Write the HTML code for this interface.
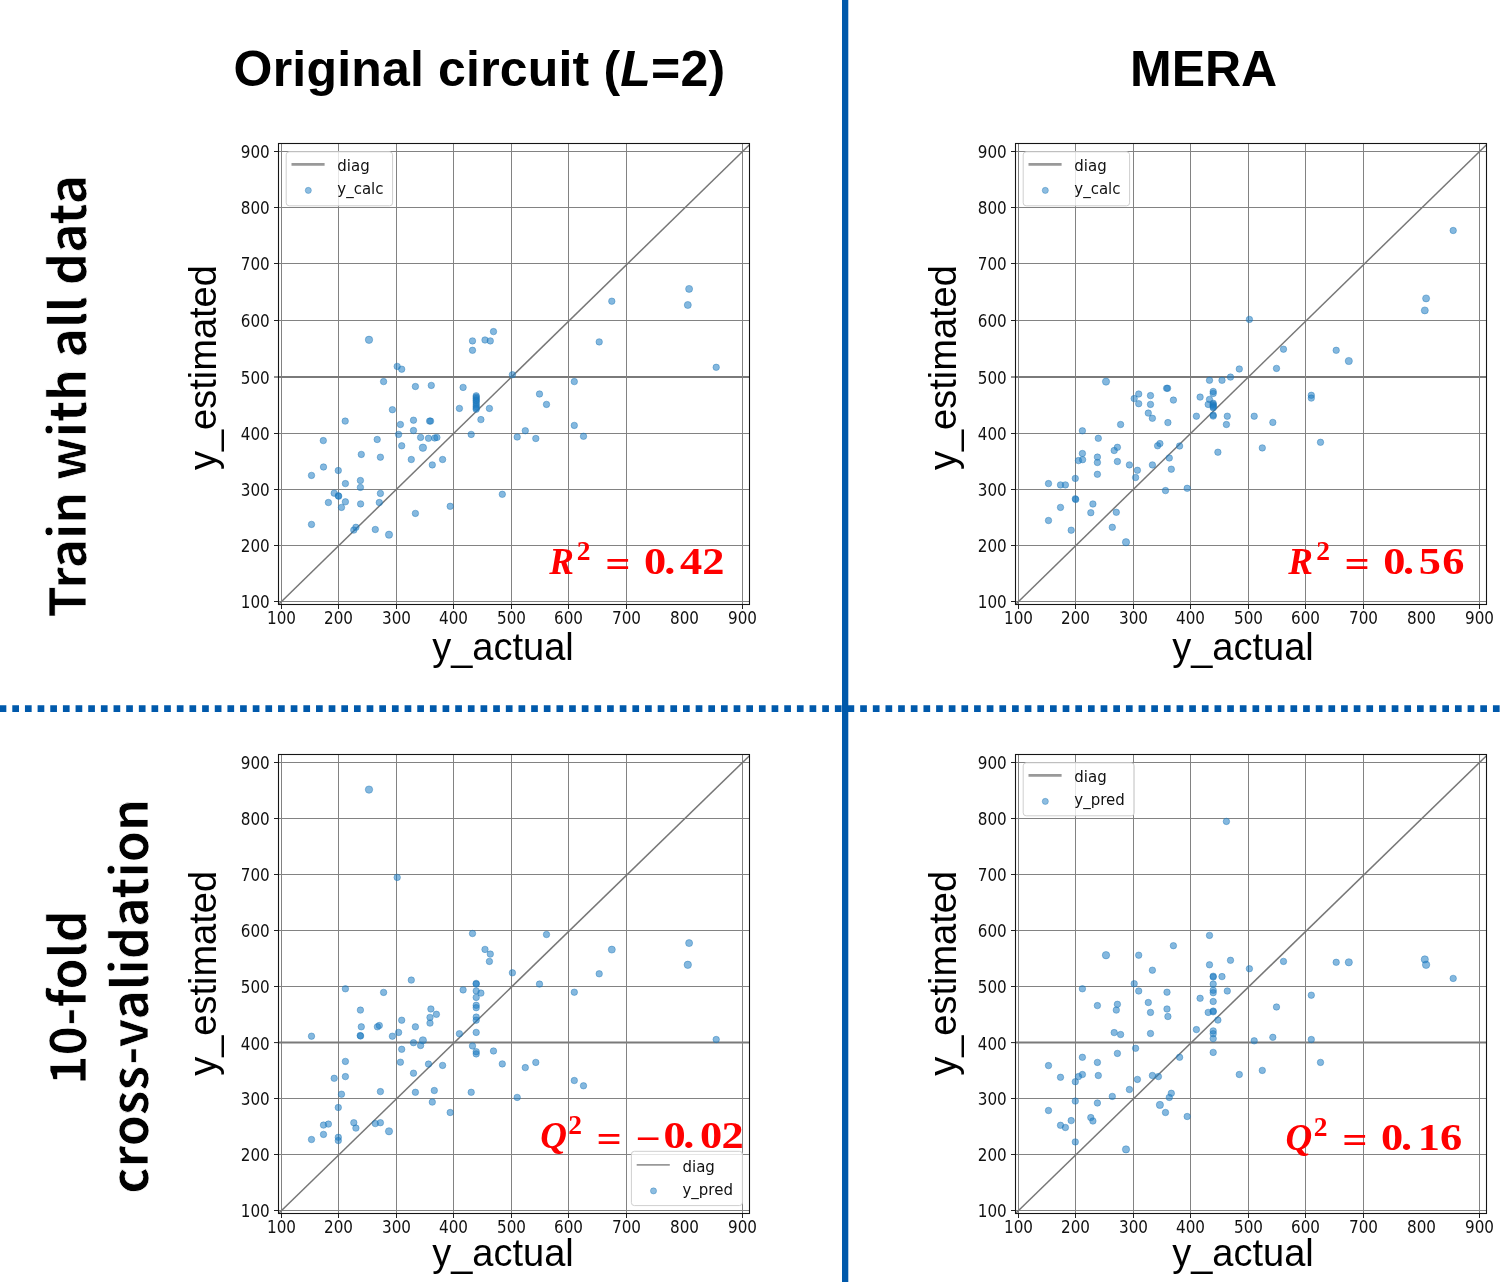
<!DOCTYPE html>
<html lang="en"><head><meta charset="utf-8"><title>Original circuit vs MERA</title>
<style>
html,body{margin:0;padding:0;background:#fff}
svg{display:block}
.tk{font-family:"DejaVu Sans","Liberation Sans",sans-serif;font-size:15.2px;fill:#111}
.lg{font-family:"DejaVu Sans","Liberation Sans",sans-serif;font-size:15px;fill:#111}
.ax{font-family:"Liberation Sans",Arial,sans-serif;font-size:38px;fill:#000}
.ti{font-family:"Liberation Sans",Arial,sans-serif;font-size:50px;font-weight:bold;fill:#000}
.sd{font-family:"Noto Sans CJK JP","Liberation Sans",sans-serif;font-weight:bold;font-size:50px;fill:#000;stroke:#fff;stroke-width:.7px}
.eq{font-family:"Liberation Serif","DejaVu Serif",serif;font-weight:bold;font-size:37px;fill:#ff0000;text-anchor:middle}
.eq .it{font-style:italic}
.pt circle{fill:#1c7cc4;fill-opacity:.54;stroke:#1f77b4;stroke-opacity:.6;stroke-width:.7}
</style></head><body>
<svg width="1502" height="1282" viewBox="0 0 1502 1282">
<rect width="1502" height="1282" fill="#fff"/>
<g>
<line x1="281.5" y1="143.5" x2="281.5" y2="604.5" stroke="#828282" stroke-width="1"/>
<line x1="281.5" y1="604.5" x2="281.5" y2="609.0" stroke="#222" stroke-width="1"/>
<line x1="278.5" y1="601.5" x2="749.5" y2="601.5" stroke="#828282" stroke-width="1"/>
<line x1="274.0" y1="601.5" x2="278.5" y2="601.5" stroke="#222" stroke-width="1"/>
<line x1="338.5" y1="143.5" x2="338.5" y2="604.5" stroke="#828282" stroke-width="1"/>
<line x1="338.5" y1="604.5" x2="338.5" y2="609.0" stroke="#222" stroke-width="1"/>
<line x1="278.5" y1="545.5" x2="749.5" y2="545.5" stroke="#828282" stroke-width="1"/>
<line x1="274.0" y1="545.5" x2="278.5" y2="545.5" stroke="#222" stroke-width="1"/>
<line x1="396.5" y1="143.5" x2="396.5" y2="604.5" stroke="#828282" stroke-width="1"/>
<line x1="396.5" y1="604.5" x2="396.5" y2="609.0" stroke="#222" stroke-width="1"/>
<line x1="278.5" y1="489.5" x2="749.5" y2="489.5" stroke="#828282" stroke-width="1"/>
<line x1="274.0" y1="489.5" x2="278.5" y2="489.5" stroke="#222" stroke-width="1"/>
<line x1="453.5" y1="143.5" x2="453.5" y2="604.5" stroke="#828282" stroke-width="1"/>
<line x1="453.5" y1="604.5" x2="453.5" y2="609.0" stroke="#222" stroke-width="1"/>
<line x1="278.5" y1="433.5" x2="749.5" y2="433.5" stroke="#828282" stroke-width="1"/>
<line x1="274.0" y1="433.5" x2="278.5" y2="433.5" stroke="#222" stroke-width="1"/>
<line x1="511.5" y1="143.5" x2="511.5" y2="604.5" stroke="#828282" stroke-width="1"/>
<line x1="511.5" y1="604.5" x2="511.5" y2="609.0" stroke="#222" stroke-width="1"/>
<line x1="278.5" y1="377.0" x2="749.5" y2="377.0" stroke="#7a7a7a" stroke-width="2"/>
<line x1="274.0" y1="377.0" x2="278.5" y2="377.0" stroke="#222" stroke-width="1"/>
<line x1="568.5" y1="143.5" x2="568.5" y2="604.5" stroke="#828282" stroke-width="1"/>
<line x1="568.5" y1="604.5" x2="568.5" y2="609.0" stroke="#222" stroke-width="1"/>
<line x1="278.5" y1="320.5" x2="749.5" y2="320.5" stroke="#828282" stroke-width="1"/>
<line x1="274.0" y1="320.5" x2="278.5" y2="320.5" stroke="#222" stroke-width="1"/>
<line x1="626.5" y1="143.5" x2="626.5" y2="604.5" stroke="#828282" stroke-width="1"/>
<line x1="626.5" y1="604.5" x2="626.5" y2="609.0" stroke="#222" stroke-width="1"/>
<line x1="278.5" y1="263.5" x2="749.5" y2="263.5" stroke="#828282" stroke-width="1"/>
<line x1="274.0" y1="263.5" x2="278.5" y2="263.5" stroke="#222" stroke-width="1"/>
<line x1="278.5" y1="207.5" x2="749.5" y2="207.5" stroke="#828282" stroke-width="1"/>
<line x1="274.0" y1="207.5" x2="278.5" y2="207.5" stroke="#222" stroke-width="1"/>
<line x1="742.5" y1="143.5" x2="742.5" y2="604.5" stroke="#828282" stroke-width="1"/>
<line x1="742.5" y1="604.5" x2="742.5" y2="609.0" stroke="#222" stroke-width="1"/>
<line x1="278.5" y1="151.5" x2="749.5" y2="151.5" stroke="#828282" stroke-width="1"/>
<line x1="274.0" y1="151.5" x2="278.5" y2="151.5" stroke="#222" stroke-width="1"/>
<line x1="278.50" y1="604.43" x2="749.50" y2="144.67" stroke="#777" stroke-width="1.5"/>
<g class="pt">
<circle cx="383.6" cy="381.6" r="3.23"/>
<circle cx="415.4" cy="386.5" r="3.23"/>
<circle cx="431.3" cy="385.4" r="3.23"/>
<circle cx="463.1" cy="387.4" r="3.23"/>
<circle cx="476.2" cy="395.8" r="3.23"/>
<circle cx="476.2" cy="397.1" r="3.23"/>
<circle cx="476.2" cy="398.5" r="3.23"/>
<circle cx="476.2" cy="400.0" r="3.23"/>
<circle cx="476.2" cy="401.1" r="3.23"/>
<circle cx="476.2" cy="402.8" r="3.23"/>
<circle cx="476.2" cy="404.8" r="3.23"/>
<circle cx="476.2" cy="406.5" r="3.23"/>
<circle cx="476.2" cy="408.0" r="3.23"/>
<circle cx="476.2" cy="409.3" r="3.23"/>
<circle cx="459.4" cy="408.4" r="3.23"/>
<circle cx="489.4" cy="408.4" r="3.23"/>
<circle cx="392.4" cy="409.7" r="3.23"/>
<circle cx="480.9" cy="419.6" r="3.23"/>
<circle cx="345.2" cy="421.1" r="3.23"/>
<circle cx="413.5" cy="420.2" r="3.23"/>
<circle cx="429.6" cy="421.1" r="3.23"/>
<circle cx="430.6" cy="421.1" r="3.23"/>
<circle cx="400.4" cy="424.5" r="3.23"/>
<circle cx="413.5" cy="430.5" r="3.23"/>
<circle cx="398.6" cy="434.4" r="3.23"/>
<circle cx="471.2" cy="434.4" r="3.23"/>
<circle cx="323.3" cy="440.6" r="3.23"/>
<circle cx="377.2" cy="439.5" r="3.23"/>
<circle cx="420.6" cy="437.4" r="3.23"/>
<circle cx="428.5" cy="438.3" r="3.23"/>
<circle cx="434.7" cy="438.0" r="3.23"/>
<circle cx="436.9" cy="437.4" r="3.23"/>
<circle cx="401.7" cy="445.8" r="3.23"/>
<circle cx="422.9" cy="447.7" r="3.70"/>
<circle cx="361.3" cy="454.4" r="3.23"/>
<circle cx="380.4" cy="457.2" r="3.23"/>
<circle cx="411.3" cy="459.5" r="3.23"/>
<circle cx="442.6" cy="459.5" r="3.23"/>
<circle cx="432.3" cy="464.9" r="3.23"/>
<circle cx="323.5" cy="467.0" r="3.23"/>
<circle cx="338.3" cy="470.5" r="3.23"/>
<circle cx="311.5" cy="475.4" r="3.23"/>
<circle cx="360.4" cy="480.5" r="3.23"/>
<circle cx="345.4" cy="483.6" r="3.23"/>
<circle cx="360.4" cy="487.4" r="3.23"/>
<circle cx="334.2" cy="493.2" r="3.23"/>
<circle cx="338.3" cy="495.8" r="3.23"/>
<circle cx="338.7" cy="496.2" r="3.23"/>
<circle cx="380.4" cy="493.4" r="3.23"/>
<circle cx="502.3" cy="494.3" r="3.23"/>
<circle cx="328.4" cy="502.5" r="3.23"/>
<circle cx="345.4" cy="501.8" r="3.23"/>
<circle cx="360.6" cy="503.9" r="3.23"/>
<circle cx="379.3" cy="502.5" r="3.23"/>
<circle cx="341.5" cy="507.4" r="3.23"/>
<circle cx="450.2" cy="506.3" r="3.23"/>
<circle cx="415.4" cy="513.4" r="3.23"/>
<circle cx="311.5" cy="524.4" r="3.23"/>
<circle cx="355.9" cy="527.3" r="3.23"/>
<circle cx="353.8" cy="530.1" r="3.23"/>
<circle cx="375.3" cy="529.5" r="3.23"/>
<circle cx="389.0" cy="534.7" r="3.61"/>
<circle cx="512.4" cy="374.7" r="3.23"/>
<circle cx="369.0" cy="339.8" r="3.70"/>
<circle cx="472.5" cy="340.9" r="3.23"/>
<circle cx="472.5" cy="350.3" r="3.23"/>
<circle cx="485.0" cy="340.0" r="3.23"/>
<circle cx="490.3" cy="340.9" r="3.23"/>
<circle cx="493.5" cy="331.6" r="3.23"/>
<circle cx="397.2" cy="366.4" r="3.23"/>
<circle cx="401.7" cy="369.2" r="3.23"/>
<circle cx="611.8" cy="301.2" r="3.23"/>
<circle cx="689.1" cy="288.9" r="3.52"/>
<circle cx="687.8" cy="305.0" r="3.52"/>
<circle cx="599.2" cy="341.9" r="3.23"/>
<circle cx="716.2" cy="367.3" r="3.23"/>
<circle cx="574.3" cy="381.6" r="3.23"/>
<circle cx="539.5" cy="394.0" r="3.23"/>
<circle cx="546.5" cy="404.4" r="3.23"/>
<circle cx="574.3" cy="425.4" r="3.23"/>
<circle cx="525.3" cy="430.7" r="3.23"/>
<circle cx="517.2" cy="437.0" r="3.23"/>
<circle cx="535.8" cy="438.5" r="3.23"/>
<circle cx="583.5" cy="436.3" r="3.23"/>
</g>
<rect x="278.5" y="143.5" width="471.00" height="461.00" fill="none" stroke="#151515" stroke-width="1.1"/>
<text class="tk" transform="translate(281.50,624.30) scale(1,1.175)" text-anchor="middle">100</text>
<text class="tk" transform="translate(269.80,608.40) scale(1,1.175)" text-anchor="end">100</text>
<text class="tk" transform="translate(338.50,624.30) scale(1,1.175)" text-anchor="middle">200</text>
<text class="tk" transform="translate(269.80,552.40) scale(1,1.175)" text-anchor="end">200</text>
<text class="tk" transform="translate(396.50,624.30) scale(1,1.175)" text-anchor="middle">300</text>
<text class="tk" transform="translate(269.80,496.40) scale(1,1.175)" text-anchor="end">300</text>
<text class="tk" transform="translate(453.50,624.30) scale(1,1.175)" text-anchor="middle">400</text>
<text class="tk" transform="translate(269.80,440.40) scale(1,1.175)" text-anchor="end">400</text>
<text class="tk" transform="translate(511.50,624.30) scale(1,1.175)" text-anchor="middle">500</text>
<text class="tk" transform="translate(269.80,383.90) scale(1,1.175)" text-anchor="end">500</text>
<text class="tk" transform="translate(568.50,624.30) scale(1,1.175)" text-anchor="middle">600</text>
<text class="tk" transform="translate(269.80,327.40) scale(1,1.175)" text-anchor="end">600</text>
<text class="tk" transform="translate(626.50,624.30) scale(1,1.175)" text-anchor="middle">700</text>
<text class="tk" transform="translate(269.80,270.40) scale(1,1.175)" text-anchor="end">700</text>
<text class="tk" transform="translate(684.50,624.30) scale(1,1.175)" text-anchor="middle">800</text>
<text class="tk" transform="translate(269.80,214.40) scale(1,1.175)" text-anchor="end">800</text>
<text class="tk" transform="translate(742.50,624.30) scale(1,1.175)" text-anchor="middle">900</text>
<text class="tk" transform="translate(269.80,158.40) scale(1,1.175)" text-anchor="end">900</text>
<rect x="286.2" y="151.8" width="106.4" height="54" rx="3" ry="3" fill="#fff" fill-opacity=".8" stroke="#cfcfcf" stroke-width="1"/>
<line x1="291.5" y1="164.4" x2="324.6" y2="164.4" stroke="#999" stroke-width="2.6"/>
<circle cx="308.3" cy="190.4" r="3.05" fill="#1c7cc4" fill-opacity=".5" stroke="#1f77b4" stroke-opacity=".55" stroke-width=".7"/>
<text class="lg" transform="translate(337.3,171.2) scale(1,1.07)">diag</text>
<text class="lg" transform="translate(337.3,194.2) scale(1,1.07)">y_calc</text>
<text class="eq" y="573.9"><tspan class="it" x="561.5">R</tspan><tspan x="583.7" dy="-14.2" font-size="27.5">2</tspan></text>
<text class="eq" transform="translate(0,573.9) scale(1.2,1)" x="514.92 530.83 546.00 558.25 575.92 594.50" dy="3.4 0.0 -3.4 0.0 0.0 0.0" xml:space="preserve">= 0.42</text>
</g>
<g>
<line x1="1018.5" y1="143.5" x2="1018.5" y2="604.5" stroke="#828282" stroke-width="1"/>
<line x1="1018.5" y1="604.5" x2="1018.5" y2="609.0" stroke="#222" stroke-width="1"/>
<line x1="1015.5" y1="601.5" x2="1486.5" y2="601.5" stroke="#828282" stroke-width="1"/>
<line x1="1011.0" y1="601.5" x2="1015.5" y2="601.5" stroke="#222" stroke-width="1"/>
<line x1="1075.5" y1="143.5" x2="1075.5" y2="604.5" stroke="#828282" stroke-width="1"/>
<line x1="1075.5" y1="604.5" x2="1075.5" y2="609.0" stroke="#222" stroke-width="1"/>
<line x1="1015.5" y1="545.5" x2="1486.5" y2="545.5" stroke="#828282" stroke-width="1"/>
<line x1="1011.0" y1="545.5" x2="1015.5" y2="545.5" stroke="#222" stroke-width="1"/>
<line x1="1133.5" y1="143.5" x2="1133.5" y2="604.5" stroke="#828282" stroke-width="1"/>
<line x1="1133.5" y1="604.5" x2="1133.5" y2="609.0" stroke="#222" stroke-width="1"/>
<line x1="1015.5" y1="489.5" x2="1486.5" y2="489.5" stroke="#828282" stroke-width="1"/>
<line x1="1011.0" y1="489.5" x2="1015.5" y2="489.5" stroke="#222" stroke-width="1"/>
<line x1="1190.5" y1="143.5" x2="1190.5" y2="604.5" stroke="#828282" stroke-width="1"/>
<line x1="1190.5" y1="604.5" x2="1190.5" y2="609.0" stroke="#222" stroke-width="1"/>
<line x1="1015.5" y1="433.5" x2="1486.5" y2="433.5" stroke="#828282" stroke-width="1"/>
<line x1="1011.0" y1="433.5" x2="1015.5" y2="433.5" stroke="#222" stroke-width="1"/>
<line x1="1248.5" y1="143.5" x2="1248.5" y2="604.5" stroke="#828282" stroke-width="1"/>
<line x1="1248.5" y1="604.5" x2="1248.5" y2="609.0" stroke="#222" stroke-width="1"/>
<line x1="1015.5" y1="377.0" x2="1486.5" y2="377.0" stroke="#7a7a7a" stroke-width="2"/>
<line x1="1011.0" y1="377.0" x2="1015.5" y2="377.0" stroke="#222" stroke-width="1"/>
<line x1="1305.5" y1="143.5" x2="1305.5" y2="604.5" stroke="#828282" stroke-width="1"/>
<line x1="1305.5" y1="604.5" x2="1305.5" y2="609.0" stroke="#222" stroke-width="1"/>
<line x1="1015.5" y1="320.5" x2="1486.5" y2="320.5" stroke="#828282" stroke-width="1"/>
<line x1="1011.0" y1="320.5" x2="1015.5" y2="320.5" stroke="#222" stroke-width="1"/>
<line x1="1363.5" y1="143.5" x2="1363.5" y2="604.5" stroke="#828282" stroke-width="1"/>
<line x1="1363.5" y1="604.5" x2="1363.5" y2="609.0" stroke="#222" stroke-width="1"/>
<line x1="1015.5" y1="263.5" x2="1486.5" y2="263.5" stroke="#828282" stroke-width="1"/>
<line x1="1011.0" y1="263.5" x2="1015.5" y2="263.5" stroke="#222" stroke-width="1"/>
<line x1="1015.5" y1="207.5" x2="1486.5" y2="207.5" stroke="#828282" stroke-width="1"/>
<line x1="1011.0" y1="207.5" x2="1015.5" y2="207.5" stroke="#222" stroke-width="1"/>
<line x1="1479.5" y1="143.5" x2="1479.5" y2="604.5" stroke="#828282" stroke-width="1"/>
<line x1="1479.5" y1="604.5" x2="1479.5" y2="609.0" stroke="#222" stroke-width="1"/>
<line x1="1015.5" y1="151.5" x2="1486.5" y2="151.5" stroke="#828282" stroke-width="1"/>
<line x1="1011.0" y1="151.5" x2="1015.5" y2="151.5" stroke="#222" stroke-width="1"/>
<line x1="1015.50" y1="604.43" x2="1486.50" y2="144.67" stroke="#777" stroke-width="1.5"/>
<g class="pt">
<circle cx="1249.4" cy="319.4" r="3.23"/>
<circle cx="1239.3" cy="369.0" r="3.23"/>
<circle cx="1106.0" cy="381.6" r="3.61"/>
<circle cx="1209.5" cy="380.3" r="3.23"/>
<circle cx="1222.0" cy="380.3" r="3.23"/>
<circle cx="1230.5" cy="377.1" r="3.23"/>
<circle cx="1166.6" cy="388.3" r="3.23"/>
<circle cx="1167.6" cy="388.3" r="3.23"/>
<circle cx="1213.2" cy="391.5" r="3.23"/>
<circle cx="1213.2" cy="393.4" r="3.23"/>
<circle cx="1138.7" cy="394.0" r="3.23"/>
<circle cx="1150.5" cy="395.6" r="3.23"/>
<circle cx="1134.2" cy="398.6" r="3.23"/>
<circle cx="1173.4" cy="400.1" r="3.23"/>
<circle cx="1200.1" cy="397.1" r="3.23"/>
<circle cx="1209.5" cy="399.4" r="3.23"/>
<circle cx="1138.7" cy="403.7" r="3.23"/>
<circle cx="1150.5" cy="404.4" r="3.23"/>
<circle cx="1208.2" cy="404.4" r="3.23"/>
<circle cx="1213.2" cy="403.3" r="3.23"/>
<circle cx="1213.2" cy="404.4" r="3.23"/>
<circle cx="1213.2" cy="405.6" r="3.23"/>
<circle cx="1213.2" cy="406.7" r="3.23"/>
<circle cx="1213.2" cy="407.8" r="3.23"/>
<circle cx="1148.3" cy="413.1" r="3.23"/>
<circle cx="1152.4" cy="418.3" r="3.23"/>
<circle cx="1196.4" cy="416.2" r="3.23"/>
<circle cx="1213.2" cy="415.1" r="3.23"/>
<circle cx="1213.2" cy="416.1" r="3.23"/>
<circle cx="1227.3" cy="416.2" r="3.23"/>
<circle cx="1120.6" cy="424.5" r="3.23"/>
<circle cx="1167.9" cy="422.6" r="3.23"/>
<circle cx="1226.4" cy="424.5" r="3.23"/>
<circle cx="1082.4" cy="430.8" r="3.23"/>
<circle cx="1098.3" cy="438.3" r="3.23"/>
<circle cx="1117.4" cy="447.3" r="3.23"/>
<circle cx="1114.2" cy="450.5" r="3.23"/>
<circle cx="1159.9" cy="443.6" r="3.23"/>
<circle cx="1157.6" cy="445.8" r="3.23"/>
<circle cx="1179.6" cy="446.0" r="3.23"/>
<circle cx="1217.9" cy="452.2" r="3.23"/>
<circle cx="1082.4" cy="453.5" r="3.23"/>
<circle cx="1097.4" cy="457.1" r="3.23"/>
<circle cx="1078.5" cy="460.6" r="3.23"/>
<circle cx="1082.6" cy="459.7" r="3.23"/>
<circle cx="1097.4" cy="462.5" r="3.23"/>
<circle cx="1117.4" cy="461.5" r="3.23"/>
<circle cx="1169.3" cy="458.0" r="3.23"/>
<circle cx="1129.4" cy="464.9" r="3.23"/>
<circle cx="1152.4" cy="464.9" r="3.23"/>
<circle cx="1137.4" cy="470.3" r="3.23"/>
<circle cx="1171.3" cy="469.2" r="3.23"/>
<circle cx="1097.4" cy="474.3" r="3.23"/>
<circle cx="1135.6" cy="477.5" r="3.23"/>
<circle cx="1075.3" cy="478.4" r="3.23"/>
<circle cx="1048.5" cy="483.6" r="3.23"/>
<circle cx="1060.5" cy="484.9" r="3.23"/>
<circle cx="1065.4" cy="484.9" r="3.23"/>
<circle cx="1165.5" cy="490.6" r="3.23"/>
<circle cx="1187.2" cy="488.3" r="3.23"/>
<circle cx="1075.3" cy="498.8" r="3.23"/>
<circle cx="1075.7" cy="499.5" r="3.23"/>
<circle cx="1092.9" cy="504.0" r="3.23"/>
<circle cx="1060.5" cy="507.4" r="3.23"/>
<circle cx="1090.8" cy="512.7" r="3.23"/>
<circle cx="1116.3" cy="512.3" r="3.23"/>
<circle cx="1048.5" cy="520.5" r="3.23"/>
<circle cx="1071.2" cy="530.2" r="3.23"/>
<circle cx="1112.3" cy="527.3" r="3.23"/>
<circle cx="1126.0" cy="542.2" r="3.61"/>
<circle cx="1453.2" cy="230.5" r="3.23"/>
<circle cx="1426.1" cy="298.4" r="3.52"/>
<circle cx="1424.8" cy="310.4" r="3.52"/>
<circle cx="1283.5" cy="349.2" r="3.23"/>
<circle cx="1336.2" cy="350.3" r="3.23"/>
<circle cx="1348.8" cy="361.0" r="3.61"/>
<circle cx="1276.5" cy="368.4" r="3.23"/>
<circle cx="1311.3" cy="395.3" r="3.23"/>
<circle cx="1311.3" cy="398.1" r="3.23"/>
<circle cx="1254.2" cy="416.2" r="3.23"/>
<circle cx="1272.8" cy="422.4" r="3.23"/>
<circle cx="1262.3" cy="447.9" r="3.23"/>
<circle cx="1320.5" cy="442.3" r="3.23"/>
</g>
<rect x="1015.5" y="143.5" width="471.00" height="461.00" fill="none" stroke="#151515" stroke-width="1.1"/>
<text class="tk" transform="translate(1018.50,624.30) scale(1,1.175)" text-anchor="middle">100</text>
<text class="tk" transform="translate(1006.80,608.40) scale(1,1.175)" text-anchor="end">100</text>
<text class="tk" transform="translate(1075.50,624.30) scale(1,1.175)" text-anchor="middle">200</text>
<text class="tk" transform="translate(1006.80,552.40) scale(1,1.175)" text-anchor="end">200</text>
<text class="tk" transform="translate(1133.50,624.30) scale(1,1.175)" text-anchor="middle">300</text>
<text class="tk" transform="translate(1006.80,496.40) scale(1,1.175)" text-anchor="end">300</text>
<text class="tk" transform="translate(1190.50,624.30) scale(1,1.175)" text-anchor="middle">400</text>
<text class="tk" transform="translate(1006.80,440.40) scale(1,1.175)" text-anchor="end">400</text>
<text class="tk" transform="translate(1248.50,624.30) scale(1,1.175)" text-anchor="middle">500</text>
<text class="tk" transform="translate(1006.80,383.90) scale(1,1.175)" text-anchor="end">500</text>
<text class="tk" transform="translate(1305.50,624.30) scale(1,1.175)" text-anchor="middle">600</text>
<text class="tk" transform="translate(1006.80,327.40) scale(1,1.175)" text-anchor="end">600</text>
<text class="tk" transform="translate(1363.50,624.30) scale(1,1.175)" text-anchor="middle">700</text>
<text class="tk" transform="translate(1006.80,270.40) scale(1,1.175)" text-anchor="end">700</text>
<text class="tk" transform="translate(1421.50,624.30) scale(1,1.175)" text-anchor="middle">800</text>
<text class="tk" transform="translate(1006.80,214.40) scale(1,1.175)" text-anchor="end">800</text>
<text class="tk" transform="translate(1479.50,624.30) scale(1,1.175)" text-anchor="middle">900</text>
<text class="tk" transform="translate(1006.80,158.40) scale(1,1.175)" text-anchor="end">900</text>
<rect x="1023.2" y="151.8" width="106.4" height="54" rx="3" ry="3" fill="#fff" fill-opacity=".8" stroke="#cfcfcf" stroke-width="1"/>
<line x1="1028.5" y1="164.4" x2="1061.6" y2="164.4" stroke="#999" stroke-width="2.6"/>
<circle cx="1045.3" cy="190.4" r="3.05" fill="#1c7cc4" fill-opacity=".5" stroke="#1f77b4" stroke-opacity=".55" stroke-width=".7"/>
<text class="lg" transform="translate(1074.3,171.2) scale(1,1.07)">diag</text>
<text class="lg" transform="translate(1074.3,194.2) scale(1,1.07)">y_calc</text>
<text class="eq" y="573.9"><tspan class="it" x="1300.5">R</tspan><tspan x="1323.1" dy="-14.2" font-size="27.5">2</tspan></text>
<text class="eq" transform="translate(0,573.9) scale(1.2,1)" x="1130.92 1146.67 1162.00 1173.83 1191.58 1211.08" dy="3.4 0.0 -3.4 0.0 0.0 0.0" xml:space="preserve">= 0.56</text>
</g>
<g>
<line x1="281.5" y1="754.5" x2="281.5" y2="1213.5" stroke="#828282" stroke-width="1"/>
<line x1="281.5" y1="1213.5" x2="281.5" y2="1218.0" stroke="#222" stroke-width="1"/>
<line x1="278.5" y1="1210.5" x2="749.5" y2="1210.5" stroke="#828282" stroke-width="1"/>
<line x1="274.0" y1="1210.5" x2="278.5" y2="1210.5" stroke="#222" stroke-width="1"/>
<line x1="338.5" y1="754.5" x2="338.5" y2="1213.5" stroke="#828282" stroke-width="1"/>
<line x1="338.5" y1="1213.5" x2="338.5" y2="1218.0" stroke="#222" stroke-width="1"/>
<line x1="278.5" y1="1154.5" x2="749.5" y2="1154.5" stroke="#828282" stroke-width="1"/>
<line x1="274.0" y1="1154.5" x2="278.5" y2="1154.5" stroke="#222" stroke-width="1"/>
<line x1="396.5" y1="754.5" x2="396.5" y2="1213.5" stroke="#828282" stroke-width="1"/>
<line x1="396.5" y1="1213.5" x2="396.5" y2="1218.0" stroke="#222" stroke-width="1"/>
<line x1="278.5" y1="1098.5" x2="749.5" y2="1098.5" stroke="#828282" stroke-width="1"/>
<line x1="274.0" y1="1098.5" x2="278.5" y2="1098.5" stroke="#222" stroke-width="1"/>
<line x1="453.5" y1="754.5" x2="453.5" y2="1213.5" stroke="#828282" stroke-width="1"/>
<line x1="453.5" y1="1213.5" x2="453.5" y2="1218.0" stroke="#222" stroke-width="1"/>
<line x1="278.5" y1="1042.6" x2="749.5" y2="1042.6" stroke="#7a7a7a" stroke-width="2"/>
<line x1="274.0" y1="1042.6" x2="278.5" y2="1042.6" stroke="#222" stroke-width="1"/>
<line x1="511.5" y1="754.5" x2="511.5" y2="1213.5" stroke="#828282" stroke-width="1"/>
<line x1="511.5" y1="1213.5" x2="511.5" y2="1218.0" stroke="#222" stroke-width="1"/>
<line x1="278.5" y1="986.5" x2="749.5" y2="986.5" stroke="#828282" stroke-width="1"/>
<line x1="274.0" y1="986.5" x2="278.5" y2="986.5" stroke="#222" stroke-width="1"/>
<line x1="568.5" y1="754.5" x2="568.5" y2="1213.5" stroke="#828282" stroke-width="1"/>
<line x1="568.5" y1="1213.5" x2="568.5" y2="1218.0" stroke="#222" stroke-width="1"/>
<line x1="278.5" y1="930.5" x2="749.5" y2="930.5" stroke="#828282" stroke-width="1"/>
<line x1="274.0" y1="930.5" x2="278.5" y2="930.5" stroke="#222" stroke-width="1"/>
<line x1="626.5" y1="754.5" x2="626.5" y2="1213.5" stroke="#828282" stroke-width="1"/>
<line x1="626.5" y1="1213.5" x2="626.5" y2="1218.0" stroke="#222" stroke-width="1"/>
<line x1="278.5" y1="874.5" x2="749.5" y2="874.5" stroke="#828282" stroke-width="1"/>
<line x1="274.0" y1="874.5" x2="278.5" y2="874.5" stroke="#222" stroke-width="1"/>
<line x1="278.5" y1="818.5" x2="749.5" y2="818.5" stroke="#828282" stroke-width="1"/>
<line x1="274.0" y1="818.5" x2="278.5" y2="818.5" stroke="#222" stroke-width="1"/>
<line x1="742.5" y1="754.5" x2="742.5" y2="1213.5" stroke="#828282" stroke-width="1"/>
<line x1="742.5" y1="1213.5" x2="742.5" y2="1218.0" stroke="#222" stroke-width="1"/>
<line x1="278.5" y1="762.5" x2="749.5" y2="762.5" stroke="#828282" stroke-width="1"/>
<line x1="274.0" y1="762.5" x2="278.5" y2="762.5" stroke="#222" stroke-width="1"/>
<line x1="278.50" y1="1213.42" x2="749.50" y2="755.70" stroke="#777" stroke-width="1.5"/>
<g class="pt">
<circle cx="369.0" cy="789.6" r="3.70"/>
<circle cx="397.2" cy="877.4" r="3.23"/>
<circle cx="472.5" cy="933.5" r="3.23"/>
<circle cx="485.0" cy="949.4" r="3.23"/>
<circle cx="490.3" cy="954.1" r="3.23"/>
<circle cx="489.4" cy="961.4" r="3.23"/>
<circle cx="512.4" cy="972.8" r="3.23"/>
<circle cx="411.3" cy="980.1" r="3.23"/>
<circle cx="476.2" cy="983.4" r="3.23"/>
<circle cx="476.2" cy="984.1" r="3.23"/>
<circle cx="345.4" cy="988.8" r="3.23"/>
<circle cx="383.6" cy="992.4" r="3.23"/>
<circle cx="463.1" cy="989.9" r="3.23"/>
<circle cx="476.2" cy="990.9" r="3.23"/>
<circle cx="480.9" cy="993.1" r="3.23"/>
<circle cx="476.2" cy="997.4" r="3.23"/>
<circle cx="476.2" cy="1005.3" r="3.23"/>
<circle cx="476.2" cy="1007.7" r="3.23"/>
<circle cx="360.4" cy="1010.1" r="3.23"/>
<circle cx="430.9" cy="1009.0" r="3.23"/>
<circle cx="436.4" cy="1014.3" r="3.23"/>
<circle cx="430.0" cy="1017.4" r="3.23"/>
<circle cx="476.2" cy="1017.1" r="3.23"/>
<circle cx="476.2" cy="1020.2" r="3.23"/>
<circle cx="401.7" cy="1020.2" r="3.23"/>
<circle cx="430.0" cy="1023.1" r="3.23"/>
<circle cx="379.3" cy="1025.5" r="3.23"/>
<circle cx="377.4" cy="1026.8" r="3.23"/>
<circle cx="361.3" cy="1026.8" r="3.23"/>
<circle cx="415.4" cy="1026.8" r="3.23"/>
<circle cx="398.6" cy="1032.4" r="3.23"/>
<circle cx="476.2" cy="1032.4" r="3.23"/>
<circle cx="459.4" cy="1033.7" r="3.23"/>
<circle cx="311.5" cy="1036.2" r="3.23"/>
<circle cx="360.2" cy="1035.6" r="3.23"/>
<circle cx="360.6" cy="1036.0" r="3.23"/>
<circle cx="392.4" cy="1036.2" r="3.23"/>
<circle cx="422.9" cy="1040.3" r="3.61"/>
<circle cx="413.5" cy="1042.7" r="3.23"/>
<circle cx="420.6" cy="1045.5" r="3.23"/>
<circle cx="472.5" cy="1045.9" r="3.23"/>
<circle cx="401.7" cy="1049.3" r="3.23"/>
<circle cx="476.2" cy="1051.7" r="3.23"/>
<circle cx="476.2" cy="1053.9" r="3.23"/>
<circle cx="493.5" cy="1051.0" r="3.23"/>
<circle cx="345.4" cy="1061.4" r="3.23"/>
<circle cx="400.4" cy="1062.2" r="3.23"/>
<circle cx="428.5" cy="1064.1" r="3.23"/>
<circle cx="442.6" cy="1065.4" r="3.23"/>
<circle cx="502.3" cy="1063.9" r="3.23"/>
<circle cx="413.5" cy="1073.2" r="3.23"/>
<circle cx="345.4" cy="1076.6" r="3.23"/>
<circle cx="334.2" cy="1078.3" r="3.23"/>
<circle cx="380.4" cy="1091.6" r="3.23"/>
<circle cx="415.4" cy="1092.3" r="3.23"/>
<circle cx="434.3" cy="1090.5" r="3.23"/>
<circle cx="471.2" cy="1092.3" r="3.23"/>
<circle cx="341.5" cy="1094.2" r="3.23"/>
<circle cx="432.3" cy="1102.1" r="3.23"/>
<circle cx="338.3" cy="1107.5" r="3.23"/>
<circle cx="450.2" cy="1112.5" r="3.23"/>
<circle cx="323.5" cy="1125.1" r="3.23"/>
<circle cx="328.4" cy="1124.1" r="3.23"/>
<circle cx="353.8" cy="1122.7" r="3.23"/>
<circle cx="355.9" cy="1128.1" r="3.23"/>
<circle cx="375.3" cy="1123.6" r="3.23"/>
<circle cx="380.4" cy="1122.7" r="3.23"/>
<circle cx="389.0" cy="1131.3" r="3.61"/>
<circle cx="323.5" cy="1134.4" r="3.23"/>
<circle cx="311.5" cy="1139.5" r="3.23"/>
<circle cx="338.3" cy="1137.3" r="3.23"/>
<circle cx="338.3" cy="1140.6" r="3.23"/>
<circle cx="546.5" cy="934.5" r="3.23"/>
<circle cx="611.8" cy="949.6" r="3.52"/>
<circle cx="689.1" cy="943.1" r="3.52"/>
<circle cx="687.8" cy="964.8" r="3.70"/>
<circle cx="599.2" cy="973.8" r="3.23"/>
<circle cx="539.5" cy="984.1" r="3.23"/>
<circle cx="574.3" cy="992.2" r="3.23"/>
<circle cx="716.2" cy="1039.5" r="3.23"/>
<circle cx="535.8" cy="1062.4" r="3.23"/>
<circle cx="525.3" cy="1067.6" r="3.23"/>
<circle cx="574.3" cy="1080.5" r="3.23"/>
<circle cx="583.5" cy="1085.8" r="3.23"/>
<circle cx="517.2" cy="1097.4" r="3.23"/>
</g>
<rect x="278.5" y="754.5" width="471.00" height="459.00" fill="none" stroke="#151515" stroke-width="1.1"/>
<text class="tk" transform="translate(281.50,1232.70) scale(1,1.175)" text-anchor="middle">100</text>
<text class="tk" transform="translate(269.80,1217.40) scale(1,1.175)" text-anchor="end">100</text>
<text class="tk" transform="translate(338.50,1232.70) scale(1,1.175)" text-anchor="middle">200</text>
<text class="tk" transform="translate(269.80,1161.40) scale(1,1.175)" text-anchor="end">200</text>
<text class="tk" transform="translate(396.50,1232.70) scale(1,1.175)" text-anchor="middle">300</text>
<text class="tk" transform="translate(269.80,1105.40) scale(1,1.175)" text-anchor="end">300</text>
<text class="tk" transform="translate(453.50,1232.70) scale(1,1.175)" text-anchor="middle">400</text>
<text class="tk" transform="translate(269.80,1049.50) scale(1,1.175)" text-anchor="end">400</text>
<text class="tk" transform="translate(511.50,1232.70) scale(1,1.175)" text-anchor="middle">500</text>
<text class="tk" transform="translate(269.80,993.40) scale(1,1.175)" text-anchor="end">500</text>
<text class="tk" transform="translate(568.50,1232.70) scale(1,1.175)" text-anchor="middle">600</text>
<text class="tk" transform="translate(269.80,937.40) scale(1,1.175)" text-anchor="end">600</text>
<text class="tk" transform="translate(626.50,1232.70) scale(1,1.175)" text-anchor="middle">700</text>
<text class="tk" transform="translate(269.80,881.40) scale(1,1.175)" text-anchor="end">700</text>
<text class="tk" transform="translate(684.50,1232.70) scale(1,1.175)" text-anchor="middle">800</text>
<text class="tk" transform="translate(269.80,825.40) scale(1,1.175)" text-anchor="end">800</text>
<text class="tk" transform="translate(742.50,1232.70) scale(1,1.175)" text-anchor="middle">900</text>
<text class="tk" transform="translate(269.80,769.40) scale(1,1.175)" text-anchor="end">900</text>
<rect x="631.4" y="1151.3" width="111" height="54.3" rx="3" ry="3" fill="#fff" fill-opacity=".8" stroke="#cfcfcf" stroke-width="1"/>
<line x1="636.7" y1="1164.9" x2="669.8" y2="1164.9" stroke="#999" stroke-width="1.9"/>
<circle cx="653.5" cy="1190.9" r="3.05" fill="#1c7cc4" fill-opacity=".5" stroke="#1f77b4" stroke-opacity=".55" stroke-width=".7"/>
<text class="lg" transform="translate(682.5,1171.7) scale(1,1.07)">diag</text>
<text class="lg" transform="translate(682.5,1194.7) scale(1,1.07)">y_pred</text>
<text class="eq" y="1148.3"><tspan class="it" x="553.6">Q</tspan><tspan x="575" dy="-14.2" font-size="27.5">2</tspan></text>
<text class="eq" transform="translate(0,1148.3) scale(1.2,1)" x="507.58 523.33 540.08 562.25 574.00 592.67 610.50" dy="3.4 0.0 -0.7 -2.7 0.0 0.0 0.0" xml:space="preserve">= −0.02</text>
</g>
<g>
<line x1="1018.5" y1="754.5" x2="1018.5" y2="1213.5" stroke="#828282" stroke-width="1"/>
<line x1="1018.5" y1="1213.5" x2="1018.5" y2="1218.0" stroke="#222" stroke-width="1"/>
<line x1="1015.5" y1="1210.5" x2="1486.5" y2="1210.5" stroke="#828282" stroke-width="1"/>
<line x1="1011.0" y1="1210.5" x2="1015.5" y2="1210.5" stroke="#222" stroke-width="1"/>
<line x1="1075.5" y1="754.5" x2="1075.5" y2="1213.5" stroke="#828282" stroke-width="1"/>
<line x1="1075.5" y1="1213.5" x2="1075.5" y2="1218.0" stroke="#222" stroke-width="1"/>
<line x1="1015.5" y1="1154.5" x2="1486.5" y2="1154.5" stroke="#828282" stroke-width="1"/>
<line x1="1011.0" y1="1154.5" x2="1015.5" y2="1154.5" stroke="#222" stroke-width="1"/>
<line x1="1133.5" y1="754.5" x2="1133.5" y2="1213.5" stroke="#828282" stroke-width="1"/>
<line x1="1133.5" y1="1213.5" x2="1133.5" y2="1218.0" stroke="#222" stroke-width="1"/>
<line x1="1015.5" y1="1098.5" x2="1486.5" y2="1098.5" stroke="#828282" stroke-width="1"/>
<line x1="1011.0" y1="1098.5" x2="1015.5" y2="1098.5" stroke="#222" stroke-width="1"/>
<line x1="1190.5" y1="754.5" x2="1190.5" y2="1213.5" stroke="#828282" stroke-width="1"/>
<line x1="1190.5" y1="1213.5" x2="1190.5" y2="1218.0" stroke="#222" stroke-width="1"/>
<line x1="1015.5" y1="1042.6" x2="1486.5" y2="1042.6" stroke="#7a7a7a" stroke-width="2"/>
<line x1="1011.0" y1="1042.6" x2="1015.5" y2="1042.6" stroke="#222" stroke-width="1"/>
<line x1="1248.5" y1="754.5" x2="1248.5" y2="1213.5" stroke="#828282" stroke-width="1"/>
<line x1="1248.5" y1="1213.5" x2="1248.5" y2="1218.0" stroke="#222" stroke-width="1"/>
<line x1="1015.5" y1="986.5" x2="1486.5" y2="986.5" stroke="#828282" stroke-width="1"/>
<line x1="1011.0" y1="986.5" x2="1015.5" y2="986.5" stroke="#222" stroke-width="1"/>
<line x1="1305.5" y1="754.5" x2="1305.5" y2="1213.5" stroke="#828282" stroke-width="1"/>
<line x1="1305.5" y1="1213.5" x2="1305.5" y2="1218.0" stroke="#222" stroke-width="1"/>
<line x1="1015.5" y1="930.5" x2="1486.5" y2="930.5" stroke="#828282" stroke-width="1"/>
<line x1="1011.0" y1="930.5" x2="1015.5" y2="930.5" stroke="#222" stroke-width="1"/>
<line x1="1363.5" y1="754.5" x2="1363.5" y2="1213.5" stroke="#828282" stroke-width="1"/>
<line x1="1363.5" y1="1213.5" x2="1363.5" y2="1218.0" stroke="#222" stroke-width="1"/>
<line x1="1015.5" y1="874.5" x2="1486.5" y2="874.5" stroke="#828282" stroke-width="1"/>
<line x1="1011.0" y1="874.5" x2="1015.5" y2="874.5" stroke="#222" stroke-width="1"/>
<line x1="1015.5" y1="818.5" x2="1486.5" y2="818.5" stroke="#828282" stroke-width="1"/>
<line x1="1011.0" y1="818.5" x2="1015.5" y2="818.5" stroke="#222" stroke-width="1"/>
<line x1="1479.5" y1="754.5" x2="1479.5" y2="1213.5" stroke="#828282" stroke-width="1"/>
<line x1="1479.5" y1="1213.5" x2="1479.5" y2="1218.0" stroke="#222" stroke-width="1"/>
<line x1="1015.5" y1="762.5" x2="1486.5" y2="762.5" stroke="#828282" stroke-width="1"/>
<line x1="1011.0" y1="762.5" x2="1015.5" y2="762.5" stroke="#222" stroke-width="1"/>
<line x1="1015.50" y1="1213.42" x2="1486.50" y2="755.70" stroke="#777" stroke-width="1.5"/>
<g class="pt">
<circle cx="1226.4" cy="821.4" r="3.23"/>
<circle cx="1209.5" cy="935.4" r="3.23"/>
<circle cx="1173.4" cy="945.7" r="3.23"/>
<circle cx="1106.0" cy="955.2" r="3.70"/>
<circle cx="1138.7" cy="955.2" r="3.23"/>
<circle cx="1230.5" cy="960.3" r="3.23"/>
<circle cx="1209.5" cy="964.8" r="3.23"/>
<circle cx="1152.4" cy="970.2" r="3.23"/>
<circle cx="1249.4" cy="968.7" r="3.23"/>
<circle cx="1213.2" cy="976.2" r="3.23"/>
<circle cx="1213.2" cy="977.0" r="3.23"/>
<circle cx="1222.0" cy="976.6" r="3.23"/>
<circle cx="1134.2" cy="983.7" r="3.23"/>
<circle cx="1213.2" cy="984.1" r="3.23"/>
<circle cx="1082.4" cy="988.8" r="3.23"/>
<circle cx="1138.7" cy="991.0" r="3.23"/>
<circle cx="1167.0" cy="992.2" r="3.23"/>
<circle cx="1213.2" cy="990.3" r="3.23"/>
<circle cx="1213.2" cy="992.7" r="3.23"/>
<circle cx="1227.3" cy="991.0" r="3.23"/>
<circle cx="1200.1" cy="998.3" r="3.23"/>
<circle cx="1148.3" cy="1002.5" r="3.23"/>
<circle cx="1213.2" cy="1001.5" r="3.23"/>
<circle cx="1097.4" cy="1005.6" r="3.23"/>
<circle cx="1117.4" cy="1004.3" r="3.23"/>
<circle cx="1116.3" cy="1010.1" r="3.23"/>
<circle cx="1167.0" cy="1009.0" r="3.23"/>
<circle cx="1150.5" cy="1012.4" r="3.23"/>
<circle cx="1208.2" cy="1012.4" r="3.23"/>
<circle cx="1213.2" cy="1011.1" r="3.23"/>
<circle cx="1213.2" cy="1011.8" r="3.23"/>
<circle cx="1167.9" cy="1016.5" r="3.23"/>
<circle cx="1217.9" cy="1020.1" r="3.23"/>
<circle cx="1196.4" cy="1029.6" r="3.23"/>
<circle cx="1213.2" cy="1030.9" r="3.23"/>
<circle cx="1213.2" cy="1033.7" r="3.23"/>
<circle cx="1114.2" cy="1032.6" r="3.23"/>
<circle cx="1120.6" cy="1034.5" r="3.23"/>
<circle cx="1150.5" cy="1033.5" r="3.23"/>
<circle cx="1213.2" cy="1038.6" r="3.23"/>
<circle cx="1135.6" cy="1048.3" r="3.23"/>
<circle cx="1117.4" cy="1053.4" r="3.23"/>
<circle cx="1213.2" cy="1052.4" r="3.23"/>
<circle cx="1082.4" cy="1057.3" r="3.23"/>
<circle cx="1179.6" cy="1057.3" r="3.23"/>
<circle cx="1097.4" cy="1062.4" r="3.23"/>
<circle cx="1048.5" cy="1065.6" r="3.23"/>
<circle cx="1082.4" cy="1074.5" r="3.23"/>
<circle cx="1078.5" cy="1076.6" r="3.23"/>
<circle cx="1098.3" cy="1075.5" r="3.23"/>
<circle cx="1060.5" cy="1077.3" r="3.23"/>
<circle cx="1152.4" cy="1075.5" r="3.23"/>
<circle cx="1158.4" cy="1076.6" r="3.23"/>
<circle cx="1239.3" cy="1074.5" r="3.23"/>
<circle cx="1137.4" cy="1079.4" r="3.23"/>
<circle cx="1075.3" cy="1081.7" r="3.23"/>
<circle cx="1129.4" cy="1089.5" r="3.23"/>
<circle cx="1171.3" cy="1093.3" r="3.23"/>
<circle cx="1112.3" cy="1096.4" r="3.23"/>
<circle cx="1169.3" cy="1097.4" r="3.23"/>
<circle cx="1075.3" cy="1101.1" r="3.23"/>
<circle cx="1097.4" cy="1103.0" r="3.23"/>
<circle cx="1159.9" cy="1104.9" r="3.61"/>
<circle cx="1048.5" cy="1110.5" r="3.23"/>
<circle cx="1165.5" cy="1112.5" r="3.23"/>
<circle cx="1187.2" cy="1116.5" r="3.23"/>
<circle cx="1090.8" cy="1117.6" r="3.23"/>
<circle cx="1092.9" cy="1121.0" r="3.23"/>
<circle cx="1071.2" cy="1120.6" r="3.23"/>
<circle cx="1060.5" cy="1125.3" r="3.23"/>
<circle cx="1065.4" cy="1127.5" r="3.23"/>
<circle cx="1075.3" cy="1141.9" r="3.23"/>
<circle cx="1126.0" cy="1149.4" r="3.61"/>
<circle cx="1283.5" cy="961.4" r="3.23"/>
<circle cx="1336.2" cy="962.3" r="3.23"/>
<circle cx="1348.8" cy="962.3" r="3.61"/>
<circle cx="1424.8" cy="959.4" r="3.61"/>
<circle cx="1426.1" cy="964.8" r="3.70"/>
<circle cx="1453.2" cy="978.4" r="3.23"/>
<circle cx="1311.3" cy="995.2" r="3.23"/>
<circle cx="1276.5" cy="1007.0" r="3.23"/>
<circle cx="1272.8" cy="1037.3" r="3.23"/>
<circle cx="1254.2" cy="1040.8" r="3.23"/>
<circle cx="1311.3" cy="1039.5" r="3.23"/>
<circle cx="1320.5" cy="1062.4" r="3.23"/>
<circle cx="1262.3" cy="1070.4" r="3.23"/>
</g>
<rect x="1015.5" y="754.5" width="471.00" height="459.00" fill="none" stroke="#151515" stroke-width="1.1"/>
<text class="tk" transform="translate(1018.50,1232.70) scale(1,1.175)" text-anchor="middle">100</text>
<text class="tk" transform="translate(1006.80,1217.40) scale(1,1.175)" text-anchor="end">100</text>
<text class="tk" transform="translate(1075.50,1232.70) scale(1,1.175)" text-anchor="middle">200</text>
<text class="tk" transform="translate(1006.80,1161.40) scale(1,1.175)" text-anchor="end">200</text>
<text class="tk" transform="translate(1133.50,1232.70) scale(1,1.175)" text-anchor="middle">300</text>
<text class="tk" transform="translate(1006.80,1105.40) scale(1,1.175)" text-anchor="end">300</text>
<text class="tk" transform="translate(1190.50,1232.70) scale(1,1.175)" text-anchor="middle">400</text>
<text class="tk" transform="translate(1006.80,1049.50) scale(1,1.175)" text-anchor="end">400</text>
<text class="tk" transform="translate(1248.50,1232.70) scale(1,1.175)" text-anchor="middle">500</text>
<text class="tk" transform="translate(1006.80,993.40) scale(1,1.175)" text-anchor="end">500</text>
<text class="tk" transform="translate(1305.50,1232.70) scale(1,1.175)" text-anchor="middle">600</text>
<text class="tk" transform="translate(1006.80,937.40) scale(1,1.175)" text-anchor="end">600</text>
<text class="tk" transform="translate(1363.50,1232.70) scale(1,1.175)" text-anchor="middle">700</text>
<text class="tk" transform="translate(1006.80,881.40) scale(1,1.175)" text-anchor="end">700</text>
<text class="tk" transform="translate(1421.50,1232.70) scale(1,1.175)" text-anchor="middle">800</text>
<text class="tk" transform="translate(1006.80,825.40) scale(1,1.175)" text-anchor="end">800</text>
<text class="tk" transform="translate(1479.50,1232.70) scale(1,1.175)" text-anchor="middle">900</text>
<text class="tk" transform="translate(1006.80,769.40) scale(1,1.175)" text-anchor="end">900</text>
<rect x="1023.2" y="762.8" width="111" height="53" rx="3" ry="3" fill="#fff" fill-opacity=".8" stroke="#cfcfcf" stroke-width="1"/>
<line x1="1028.5" y1="775.4" x2="1061.6" y2="775.4" stroke="#999" stroke-width="2.6"/>
<circle cx="1045.3" cy="801.4" r="3.05" fill="#1c7cc4" fill-opacity=".5" stroke="#1f77b4" stroke-opacity=".55" stroke-width=".7"/>
<text class="lg" transform="translate(1074.3,782.2) scale(1,1.07)">diag</text>
<text class="lg" transform="translate(1074.3,805.2) scale(1,1.07)">y_pred</text>
<text class="eq" y="1149.8"><tspan class="it" x="1298.9">Q</tspan><tspan x="1320.7" dy="-14.2" font-size="27.5">2</tspan></text>
<text class="eq" transform="translate(0,1149.8) scale(1.2,1)" x="1129.17 1145.00 1160.17 1172.17 1190.75 1209.25" dy="3.4 0.0 -3.4 0.0 0.0 0.0" xml:space="preserve">= 0.16</text>
</g>
<text class="ax" x="503" y="660" text-anchor="middle">y_actual</text>
<text class="ax" x="503" y="1266.3" text-anchor="middle">y_actual</text>
<text class="ax" transform="translate(216,367.6) rotate(-90)" text-anchor="middle">y_estimated</text>
<text class="ax" transform="translate(216,973.4) rotate(-90)" text-anchor="middle">y_estimated</text>
<text class="ax" x="1243" y="660" text-anchor="middle">y_actual</text>
<text class="ax" x="1243" y="1266.3" text-anchor="middle">y_actual</text>
<text class="ax" transform="translate(956,367.6) rotate(-90)" text-anchor="middle">y_estimated</text>
<text class="ax" transform="translate(956,973.4) rotate(-90)" text-anchor="middle">y_estimated</text>
<text class="ti" x="233.6" y="86" textLength="491.5">Original circuit (<tspan font-style="italic">L</tspan>=2)</text>
<text class="ti" x="1203.6" y="86" text-anchor="middle">MERA</text>
<text class="sd" transform="translate(85.8,617.6) rotate(-90)">Train with all data</text>
<text class="sd" transform="translate(85.9,1085) rotate(-90)">10-fold</text>
<text class="sd" transform="translate(147.6,1193.8) rotate(-90)">cross-validation</text>
<rect x="842" y="0" width="6.3" height="1282" fill="#0059ab"/>
<line x1="-0.36" y1="708.7" x2="1502" y2="708.7" stroke="#0059ab" stroke-width="6.7" stroke-dasharray="6.7 5.955"/>
</svg></body></html>
